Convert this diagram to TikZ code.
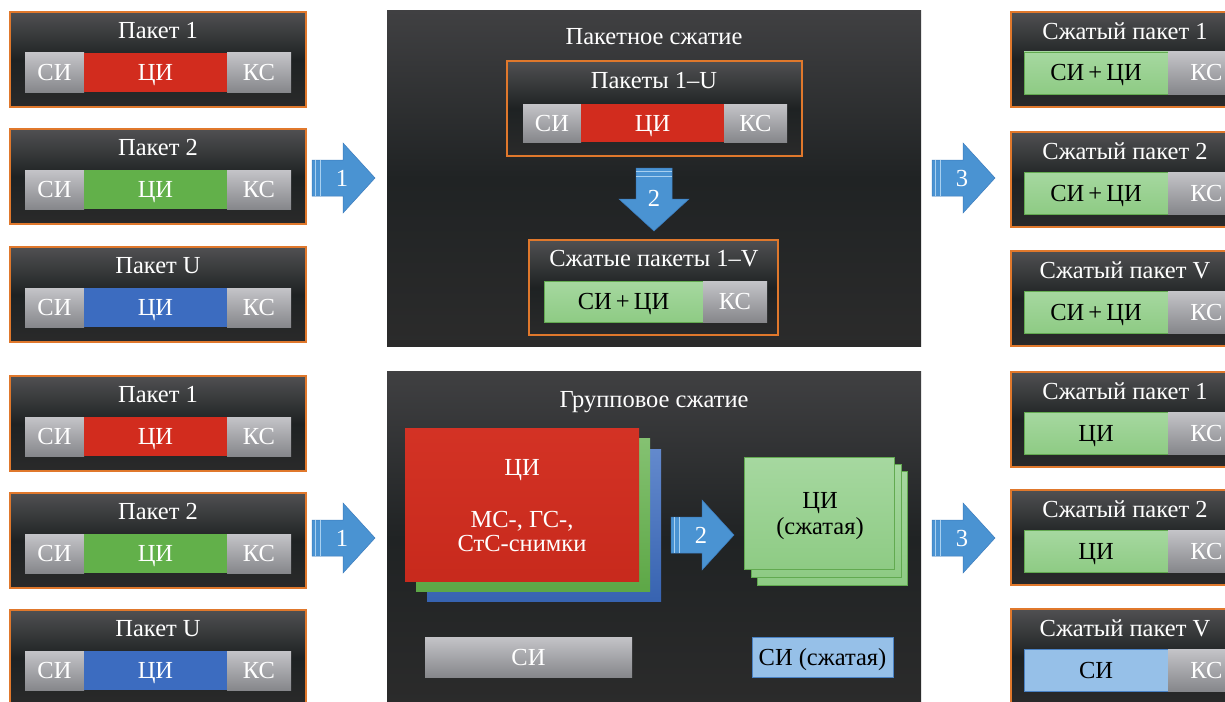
\documentclass[tikz,border=0pt]{standalone}
\usepackage{fontspec}
\setmainfont{Liberation Serif}

\definecolor{boxtop}{HTML}{505052}
\definecolor{boxmid}{HTML}{1E2223}
\definecolor{boxbot}{HTML}{2A2A2A}
\definecolor{pantop}{HTML}{404042}
\definecolor{panmid}{HTML}{202324}
\definecolor{panbot}{HTML}{2B2B2B}
\definecolor{frame}{HTML}{E0782C}
\definecolor{greytop}{HTML}{C4C4C8}
\definecolor{greybot}{HTML}{86878B}
\definecolor{cired}{HTML}{D22C1E}
\definecolor{cigreen}{HTML}{62B04A}
\definecolor{ciblue}{HTML}{3C6CC0}
\definecolor{lgtop}{HTML}{A6D8A0}
\definecolor{lgbot}{HTML}{8ECB84}
\definecolor{lgedge}{HTML}{62AA50}
\definecolor{lbfill}{HTML}{96C0E8}
\definecolor{lbedge}{HTML}{4A82C4}
\definecolor{arrowblue}{HTML}{4A93D2}
\definecolor{arrowedge}{HTML}{3B7BBD}
\definecolor{stripe}{HTML}{A8D0F0}

% rectangle node given by its corners: [style]{name}{x1}{y1}{x2}{y2}{text}
\newcommand\blk[7][]{%
  \node[anchor=north west,inner sep=0pt,outer sep=0pt,
        minimum width={(#5)-(#3)},minimum height={(#6)-(#4)},#1]
        (#2) at ({#3},{#4}) {#7};}

% incoming packet: name, top, title, colour of the ЦИ field
\newcommand\inpacket[4]{%
  \blk[pbox]{#1}{10}{#2}{306}{(#2)+95}{}
  \node[ttl] (#1-t) at (158,{(#2)+18.5}) {#3};
  \blk[greyseg]{#1-si}{25}{(#2)+41}{84}{(#2)+80}{СИ}
  \blk[seg,fill=#4]{#1-ci}{84}{(#2)+41}{227}{(#2)+80}{ЦИ}
  \blk[greyseg]{#1-ks}{227}{(#2)+41}{291}{(#2)+80}{КС}}

% compressed packet: name, top, title, style of the data field, its text
\newcommand\outpacket[5]{%
  \blk[pbox]{#1}{1011}{#2}{1245}{(#2)+95}{}
  \node[ttl] (#1-t) at (1125,{(#2)+19.5}) {#3};
  \blk[#4]{#1-d}{1024}{(#2)+40}{1168}{(#2)+82}{#5}
  \blk[greyseg]{#1-ks}{1168}{(#2)+40}{1245}{(#2)+82}{КС}}

\tikzset{
  every node/.style={font=\fontsize{24.5}{27}\selectfont,text height=16pt,text depth=0pt},
  pbox/.style={top color=boxtop,bottom color=boxbot,middle color=boxmid,
               draw=frame,line width=1.2pt},
  panel/.style={top color=pantop,bottom color=panbot,middle color=panmid},
  ttl/.style={text=white,inner sep=0pt},
  seg/.style={text=white},
  greyseg/.style={seg,top color=greytop,bottom color=greybot},
  lgseg/.style={top color=lgtop,bottom color=lgbot,draw=lgedge,line width=0.8pt,text=black},
  lbseg/.style={fill=lbfill,draw=lbedge,line width=0.8pt,text=black},
  pics/blockarrow/.style={code={
    \fill[arrowblue,draw=arrowedge,line width=0.5pt]
      (0,-18) -- (31,-18) -- (31,-35) -- (63,0) -- (31,35) -- (31,18) -- (0,18) -- cycle;
    \draw[stripe,line width=1pt] (3.5,-18) -- (3.5,18) (8.5,-18) -- (8.5,18);
    \node[text=white,inner sep=0pt] (-lbl) at (30,0) {#1};}}
}

\begin{document}
\begin{tikzpicture}[x=1pt,y=-1pt]
\useasboundingbox (0,0) rectangle (1225,701);
\clip (0,0) rectangle (1225,701);
\fill[white] (0,0) rectangle (1225,701);

% incoming packets, upper row
\inpacket{a1}{12}{Пакет 1}{cired}
\inpacket{a2}{129}{Пакет 2}{cigreen}
\inpacket{aU}{247}{Пакет U}{ciblue}
% incoming packets, lower row
\inpacket{b1}{376}{Пакет 1}{cired}
\inpacket{b2}{493}{Пакет 2}{cigreen}
\inpacket{bU}{610}{Пакет U}{ciblue}

% packet compression
\blk[panel]{pan1}{387}{11}{921}{346}{}
\node[ttl] (pan1-t) at (654,37) {Пакетное сжатие};
\blk[pbox]{inU}{507}{61}{802}{156}{}
\node[ttl] (inU-t) at (654,80.5) {Пакеты 1–U};
\blk[greyseg]{inU-si}{523}{104}{581}{142}{СИ}
\blk[seg,fill=cired]{inU-ci}{581}{104}{724}{142}{ЦИ}
\blk[greyseg]{inU-ks}{724}{104}{787}{142}{КС}
\blk[pbox]{outV}{529}{240}{778}{335}{}
\node[ttl] (outV-t) at (654,258.5) {Сжатые пакеты 1–V};
\blk[lgseg]{outV-d}{544}{281}{703}{322}{СИ\,+\,ЦИ}
\blk[greyseg]{outV-ks}{703}{281}{767}{322}{КС}

% group compression
\blk[panel]{pan2}{387}{371}{921}{705}{}
\node[ttl] (pan2-t) at (654,399.5) {Групповое сжатие};
\blk[top color=ciblue!80!white,bottom color=ciblue!92!black]{stB}{427}{449}{661}{601}{}
\blk[top color=cigreen!78!white,bottom color=cigreen!95!black]{stG}{416}{438}{650}{591}{}
\blk[top color=cired!97!white,bottom color=cired!95!black]{stR}{405}{428}{639}{581}{}
\node[ttl] (stR-a) at (522,467) {ЦИ};
\node[ttl] (stR-b) at (522,519) {МС-, ГС-,};
\node[ttl] (stR-c) at (522,543.5) {СтС-снимки};
\blk[lgseg]{cz3}{757}{471}{907}{585}{}
\blk[lgseg]{cz2}{751}{464}{901}{577}{}
\blk[lgseg]{cz1}{744}{457}{894}{569}{}
\node[inner sep=0pt] (cz1-a) at (820,500) {ЦИ};
\node[inner sep=0pt] (cz1-b) at (820,526) {(сжатая)};
\blk[greyseg]{siG}{425}{637}{632}{677}{СИ}
\blk[lbseg]{siZ}{752}{637}{893}{677}{СИ (сжатая)}

% compressed packets, upper row
\outpacket{c1}{12}{Сжатый пакет 1}{lgseg}{СИ\,+\,ЦИ}
\outpacket{c2}{132}{Сжатый пакет 2}{lgseg}{СИ\,+\,ЦИ}
\outpacket{cV}{251}{Сжатый пакет V}{lgseg}{СИ\,+\,ЦИ}
% compressed packets, lower row
\outpacket{d1}{372}{Сжатый пакет 1}{lgseg}{ЦИ}
\outpacket{d2}{490}{Сжатый пакет 2}{lgseg}{ЦИ}
\outpacket{dV}{609}{Сжатый пакет V}{lbseg}{СИ}

% step arrows
\pic (r1) at (312,178) {blockarrow=1};
\pic[rotate=-90] (r2) at (654,168) {blockarrow=2};
\pic (r3) at (932,178) {blockarrow=3};
\pic (g1) at (312,538) {blockarrow=1};
\pic (g2) at (671,535) {blockarrow=2};
\pic (g3) at (932,538) {blockarrow=3};
\end{tikzpicture}
\end{document}
